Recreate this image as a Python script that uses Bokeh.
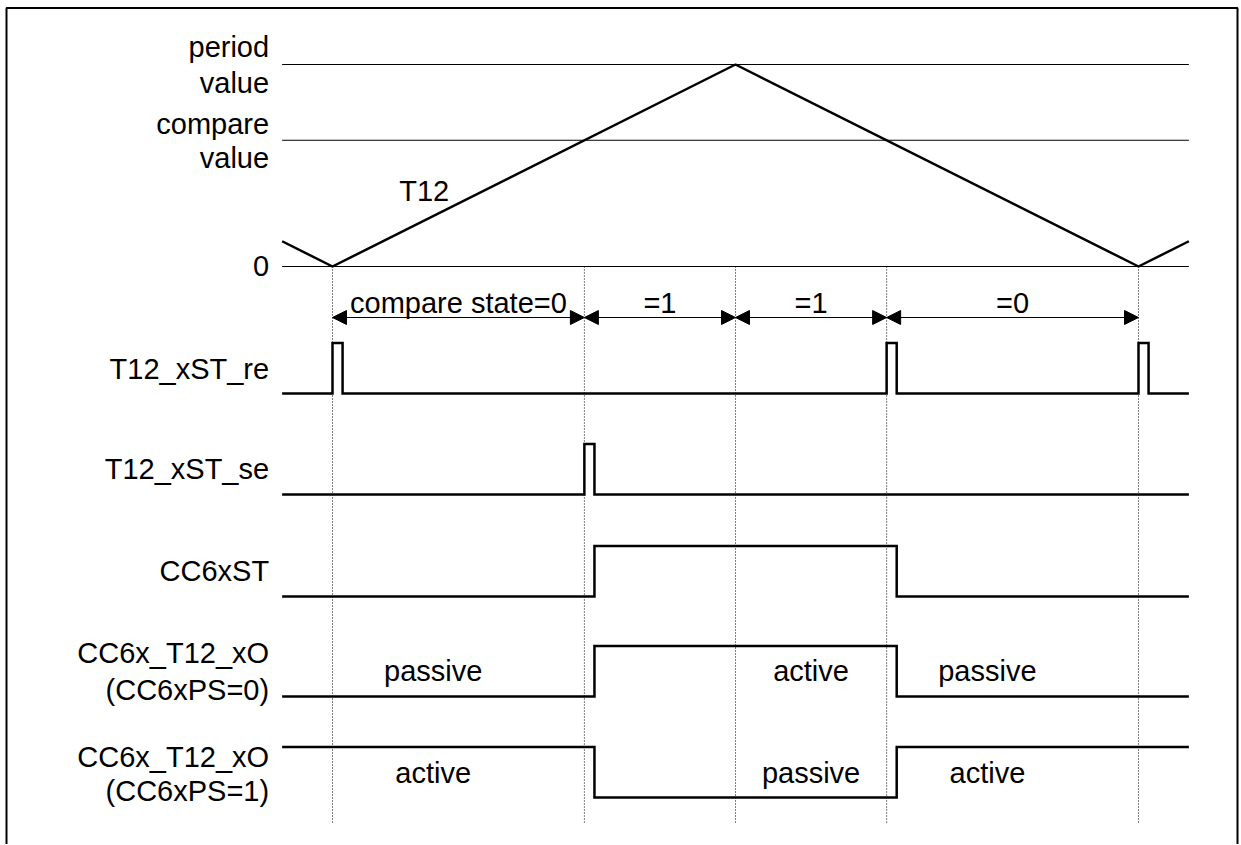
from bokeh.plotting import figure
from bokeh.models import Range1d, Arrow, NormalHead
from bokeh.core.properties import value
from bokeh.embed import file_html
from bokeh.resources import INLINE

# ---------------- data ----------------
PERIOD_VALUE = 8
COMPARE_VALUE = 5
timer_t = [-1, 0, 8, 16, 17]
timer_v = [1, 0, 8, 0, 1]
ref_levels = [PERIOD_VALUE, COMPARE_VALUE, 0]
ref_labels = [["period", "value"], ["compare", "value"], ["0"]]
event_t = [0, 5, 8, 11, 16]
state_start = [0, 5, 8, 11]
state_end = [5, 8, 11, 16]
state_labels = ["compare state=0", "=1", "=1", "=0"]

signal_names = ["T12_xST_re", "T12_xST_se", "CC6xST", "CC6x_T12_xO", "CC6x_T12_xO"]
signal_subs = ["", "", "", "(CC6xPS=0)", "(CC6xPS=1)"]
re_t = [-1, 0, 0.2, 11, 11.2, 16, 16.2, 17]
re_v = [0, 1, 0, 1, 0, 1, 0, 0]
se_t = [-1, 5, 5.2, 17]
se_v = [0, 1, 0, 0]
st_t = [-1, 5.2, 11.2, 17]
st_v = [0, 1, 0, 0]
ps0_t = [-1, 5.2, 11.2, 17]
ps0_v = [0, 1, 0, 0]
ps1_t = [-1, 5.2, 11.2, 17]
ps1_v = [1, 0, 1, 1]
out_text_t = [2, 9.5, 13]
ps0_text = ["passive", "active", "passive"]
ps1_text = ["active", "passive", "active"]

# ---------------- layout ----------------
W, H = 1240, 844
TOP, BOTTOM = 0, H              # page pixel rows of the canvas
LEFT, RIGHT = 0, W
X_ZERO = 332.0                  # page x of t = 0
X_PER = 50.375                  # page px per timer count
FONT = value("Liberation Sans")
FS = "29px"
TY = -9                         # text baseline correction

def vrange(v0, y0, v1, y1):
    ppu = (y0 - y1) / (v1 - v0)
    return Range1d(start=v0 - (BOTTOM - y0) / ppu, end=v0 + (y0 - TOP) / ppu)

row_low = [393, 494, 596, 696, 797]
AMP = 50.5

p = figure(width=W, height=H, output_backend="svg", toolbar_location=None,
           x_range=Range1d((LEFT - X_ZERO) / X_PER, (RIGHT - X_ZERO) / X_PER),
           y_range=Range1d(BOTTOM, TOP),
           x_axis_type=None, y_axis_type=None, min_border=0)
p.outline_line_color = None
p.grid.visible = False
p.background_fill_color = "white"
p.border_fill_color = "white"

p.extra_y_ranges = {"timer": vrange(0, 266, PERIOD_VALUE, 64)}
for i, lo in enumerate(row_low):
    p.extra_y_ranges["sig%d" % i] = vrange(0, lo, 1, lo - AMP)
p.extra_x_ranges = {"px": Range1d(LEFT, RIGHT)}

# outer frame (left, top, right)
p.line([6, 6, 1237, 1237], [H + 2, 7.5, 7.5, H + 2],
       x_range_name="px", line_color="black", line_width=2)

# reference levels
for lv in ref_levels:
    p.line([timer_t[0], timer_t[-1]], [lv, lv], y_range_name="timer",
           line_color="black", line_width=1)

# timer triangle
p.line(timer_t, timer_v, y_range_name="timer", line_color="black", line_width=2.5)

# dotted event lines
p.segment(x0=event_t, y0=[266] * len(event_t), x1=event_t, y1=[822] * len(event_t),
          line_color="black", line_width=1, line_dash="1 2")

def txt(xs, ys, labels, align, xoff=0):
    p.text(x=xs, y=[y + TY for y in ys], text=labels, x_offset=xoff,
           text_font=FONT, text_font_size=FS, text_align=align,
           text_baseline="alphabetic", text_color="black")

# reference labels
ref_y = [[55, 91], [132, 166], [274]]
for labels, ys in zip(ref_labels, ref_y):
    txt([timer_t[0]] * len(labels), ys, labels, "right", -13)
txt([1.82], [199], ["T12"], "center")

# compare state arrows
for s, e, lab in zip(state_start, state_end, state_labels):
    p.add_layout(Arrow(x_start=s, x_end=e, y_start=317, y_end=317,
                       line_color="black", line_width=1,
                       start=NormalHead(size=14, fill_color="black", line_color="black", line_width=1),
                       end=NormalHead(size=14, fill_color="black", line_color="black", line_width=1)))
    txt([(s + e) / 2], [311], [lab], "center")

# signals
sigs = [(re_t, re_v), (se_t, se_v), (st_t, st_v), (ps0_t, ps0_v), (ps1_t, ps1_v)]
for i, (tt, vv) in enumerate(sigs):
    p.step(tt, vv, mode="after", y_range_name="sig%d" % i, line_color="black",
           line_width=2.5, line_join="miter")

# signal labels
name_y = [377, 477, 579, 661, 765]
sub_y = [None, None, None, 698, 799]
for nm, sb, ny, sy in zip(signal_names, signal_subs, name_y, sub_y):
    txt([timer_t[0]], [ny], [nm], "right", -13)
    if sb:
        txt([timer_t[0]], [sy], [sb], "right", -13)

# output state texts
txt(out_text_t, [679] * 3, ps0_text, "center")
txt(out_text_t, [781] * 3, ps1_text, "center")

open("out.html", "w").write(file_html(p, INLINE))
